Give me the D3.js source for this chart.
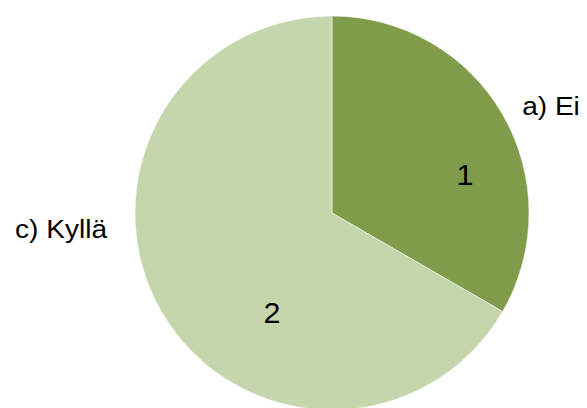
<!DOCTYPE html>
<html>
<head>
<meta charset="utf-8">
<script src="https://cdn.jsdelivr.net/npm/d3@7"></script>
<style>
  html, body { margin: 0; padding: 0; background: #fff; }
  svg { display: block; }
  text { font-family: "Liberation Sans", Arial, sans-serif; fill: #000; }
</style>
</head>
<body>
<script>
// Answer categories and counts
const categories = ["a) Ei", "c) Kyllä"];
const values = [1, 2];
const colors = ["#7F9C4A", "#C5D6AC"];

const width = 587, height = 408;
const cx = 332, cy = 213, radius = 197;

const svg = d3.select("body").append("svg")
  .attr("width", width).attr("height", height);

const g = svg.append("g").attr("transform", `translate(${cx},${cy})`);

const pie = d3.pie().sort(null).value(d => d.value);
const arcs = pie(categories.map((c, i) => ({ name: c, value: values[i], color: colors[i] })));

const arc = d3.arc().innerRadius(0).outerRadius(radius);

g.selectAll("path.slice").data(arcs).enter().append("path")
  .attr("class", "slice")
  .attr("d", arc)
  .attr("fill", d => d.data.color)
  .attr("stroke", "#fff")
  .attr("stroke-width", 0.5);

// Value labels inside slices, category labels outside (baseline offsets from centre)
const valuePos = [[133, -28], [-60, 110]];
const namePos = [[219, -98], [-271, 25]];

g.selectAll("text.value").data(arcs).enter().append("text")
  .attr("class", "value")
  .attr("transform", (d, i) => `translate(${valuePos[i][0]},${valuePos[i][1]}) scale(1.05,1)`)
  .attr("text-anchor", "middle")
  .style("font-size", "29px")
  .text(d => d.data.value);

g.selectAll("text.name").data(arcs).enter().append("text")
  .attr("class", "name")
  .attr("transform", (d, i) => `translate(${namePos[i][0]},${namePos[i][1]}) scale(1.08,1)`)
  .attr("text-anchor", "middle")
  .style("font-size", "26px")
  .text(d => d.data.name);
</script>
</body>
</html>
